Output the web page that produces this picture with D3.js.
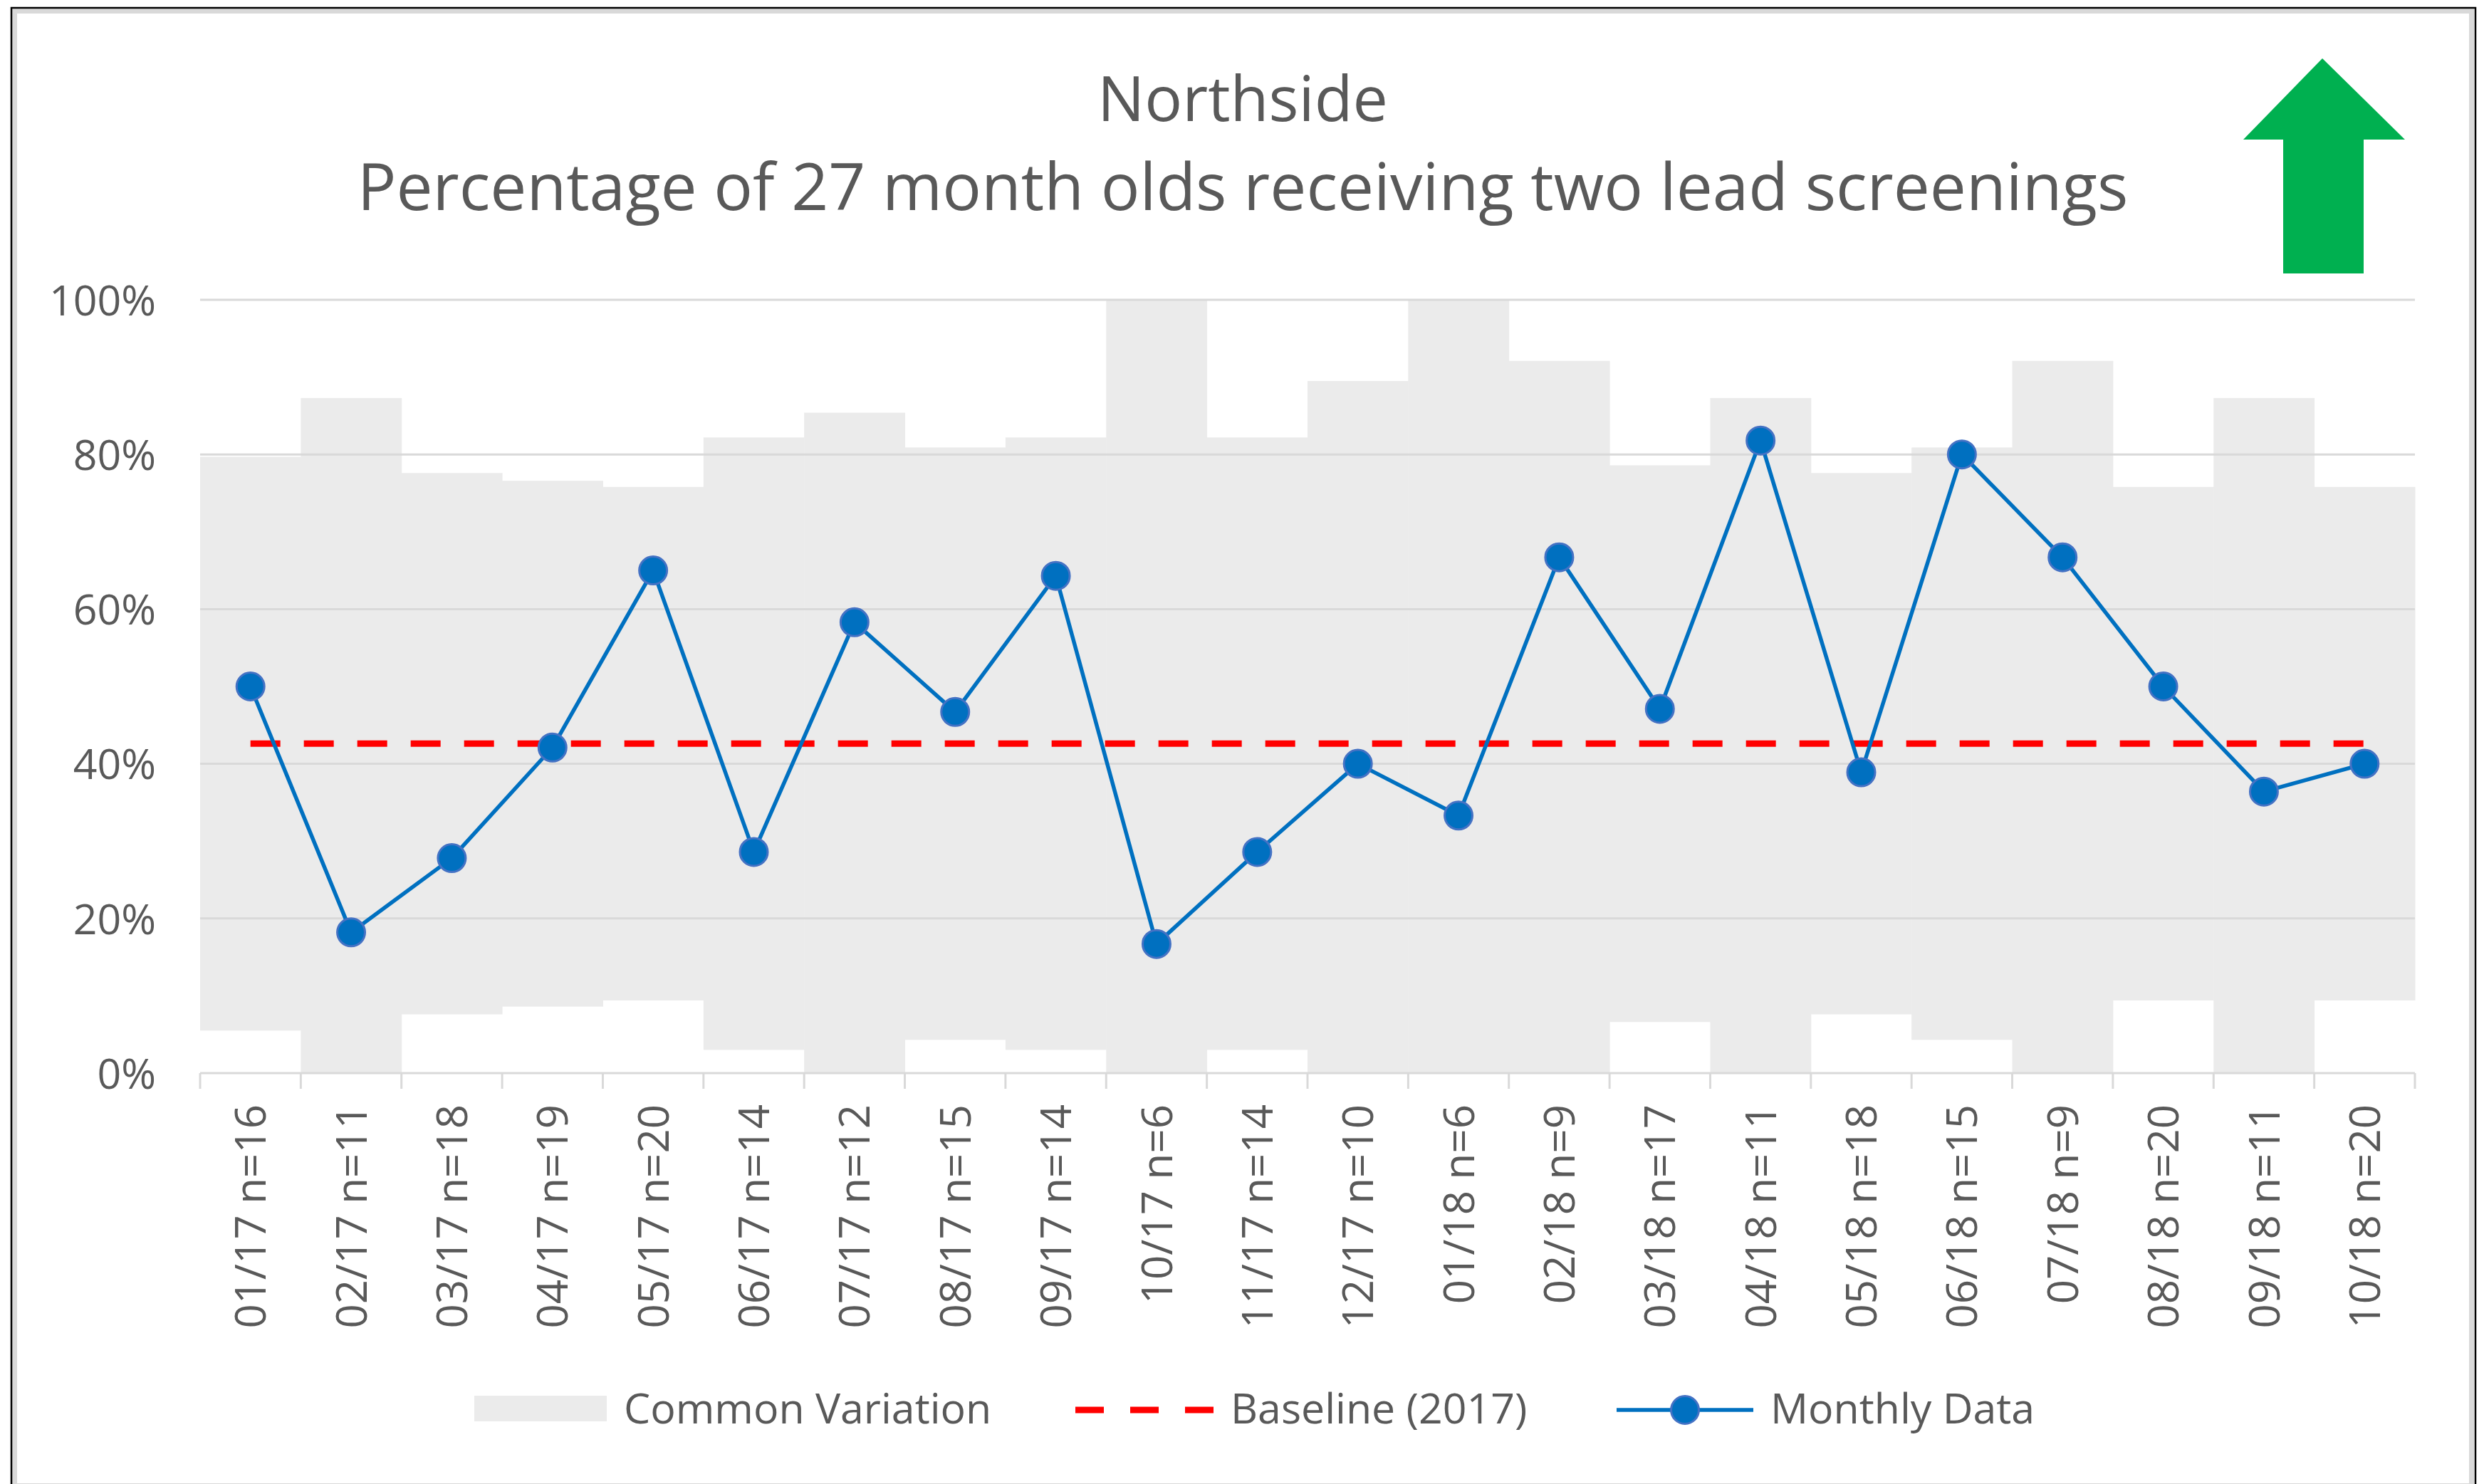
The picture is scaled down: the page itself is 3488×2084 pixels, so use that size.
<!DOCTYPE html>
<html>
<head>
<meta charset="utf-8">
<script src="https://cdn.jsdelivr.net/npm/d3@7"></script>
<style>
  body { margin: 0; background: #fff; }
  text { font-family: "Open Sans", "Noto Sans", sans-serif; fill: #595959; }
</style>
</head>
<body>
<div id="chart"></div>
<script>
// month labels and sample sizes
const months = ["01/17", "02/17", "03/17", "04/17", "05/17", "06/17", "07/17", "08/17", "09/17", "10/17", "11/17", "12/17",
                "01/18", "02/18", "03/18", "04/18", "05/18", "06/18", "07/18", "08/18", "09/18", "10/18"];
const counts = [16, 11, 18, 19, 20, 14, 12, 15, 14, 6, 14, 10, 6, 9, 17, 11, 18, 15, 9, 20, 11, 20];
// monthly percentage
const monthly = [50.0, 18.2, 27.8, 42.1, 65.0, 28.6, 58.3, 46.7, 64.3, 16.7, 28.6, 40.0,
                 33.3, 66.7, 47.1, 81.8, 38.9, 80.0, 66.7, 50.0, 36.4, 40.0];
// common variation band, lower / upper edge
const bandLow = [5.5, 0, 7.6, 8.6, 9.4, 3.0, 0, 4.3, 3.0, 0, 3.0, 0,
                 0, 0, 6.6, 0, 7.6, 4.3, 0, 9.4, 0, 9.4];
const bandHigh = [79.7, 87.3, 77.6, 76.6, 75.8, 82.2, 85.4, 80.9, 82.2, 100, 82.2, 89.5,
                  100, 92.1, 78.6, 87.3, 77.6, 80.9, 92.1, 75.8, 87.3, 75.8];
const baseline = 42.6;
const yTicks = [0, 20, 40, 60, 80, 100];

const width = 3488, height = 2084;
const plot = { left: 281, right: 3391, top: 421, bottom: 1507 };

const svg = d3.select("#chart").append("svg")
  .attr("width", width)
  .attr("height", height);

svg.append("rect").attr("width", width).attr("height", height).attr("fill", "#fff");

const x = d3.scaleBand().domain(months).range([plot.left, plot.right]).padding(0);
const y = d3.scaleLinear().domain([0, 100]).range([plot.bottom, plot.top]);
const cx = m => x(m) + x.bandwidth() / 2;

// common variation band
svg.append("g").selectAll("rect")
  .data(months)
  .enter().append("rect")
  .attr("x", d => x(d))
  .attr("width", x.bandwidth() + 0.5)
  .attr("y", (d, i) => y(bandHigh[i]))
  .attr("height", (d, i) => y(bandLow[i]) - y(bandHigh[i]))
  .attr("fill", "#EBEBEB");

// gridlines
svg.append("g").selectAll("line")
  .data(yTicks)
  .enter().append("line")
  .attr("x1", plot.left).attr("x2", plot.right)
  .attr("y1", d => y(d)).attr("y2", d => y(d))
  .attr("stroke", "#D9D9D9")
  .attr("stroke-width", 3);

// y axis labels
const yAxis = svg.append("g")
  .attr("transform", "translate(" + (plot.left - 62) + ",0)")
  .call(d3.axisLeft(y).tickValues(yTicks).tickSize(0).tickFormat(d => d + "%"));
yAxis.select(".domain").remove();
yAxis.selectAll("text")
  .attr("x", 0)
  .attr("dy", "0.36em")
  .style("font-size", "59px")
  .style("fill", "#595959");

// x axis tick marks at category boundaries
const bounds = months.map(m => x(m)).concat([plot.right]);
svg.append("g").selectAll("line")
  .data(bounds)
  .enter().append("line")
  .attr("x1", d => d).attr("x2", d => d)
  .attr("y1", plot.bottom).attr("y2", plot.bottom + 22)
  .attr("stroke", "#D9D9D9")
  .attr("stroke-width", 3);

const xAxis = svg.append("g")
  .attr("transform", "translate(0," + plot.bottom + ")")
  .call(d3.axisBottom(x).tickSize(0).tickFormat((d, i) => d + " n=" + counts[i]));
xAxis.select(".domain").remove();
xAxis.selectAll("text")
  .attr("transform", "rotate(-90)")
  .attr("x", -44)
  .attr("y", 0)
  .attr("dy", "0.36em")
  .attr("text-anchor", "end")
  .style("font-size", "60px")
  .style("fill", "#595959");

// baseline
svg.append("line")
  .attr("x1", cx(months[0])).attr("x2", cx(months[months.length - 1]))
  .attr("y1", y(baseline)).attr("y2", y(baseline))
  .attr("stroke", "#FF0000")
  .attr("stroke-width", 9)
  .attr("stroke-dasharray", "42 33");

// monthly data
const line = d3.line()
  .x((d, i) => cx(months[i]))
  .y(d => y(d));

svg.append("path")
  .datum(monthly)
  .attr("d", line)
  .attr("fill", "none")
  .attr("stroke", "#0070C0")
  .attr("stroke-width", 5.5)
  .attr("stroke-linejoin", "round");

svg.append("g").selectAll("circle")
  .data(monthly)
  .enter().append("circle")
  .attr("cx", (d, i) => cx(months[i]))
  .attr("cy", d => y(d))
  .attr("r", 19.5)
  .attr("fill", "#0070C0")
  .attr("stroke", "#4472C4")
  .attr("stroke-width", 3);

// titles
svg.append("text")
  .attr("x", 1745).attr("y", 170)
  .attr("text-anchor", "middle")
  .style("font-size", "88px")
  .text("Northside");
svg.append("text")
  .attr("x", 1745).attr("y", 295)
  .attr("text-anchor", "middle")
  .style("font-size", "91px")
  .text("Percentage of 27 month olds receiving two lead screenings");

// green up arrow
svg.append("path")
  .attr("d", "M3261,82 L3377,196 L3319,196 L3319,384 L3206,384 L3206,196 L3150,196 Z")
  .attr("fill", "#00B050");

// legend
const legend = svg.append("g");
legend.append("rect")
  .attr("x", 666).attr("y", 1960).attr("width", 186).attr("height", 36)
  .attr("fill", "#EBEBEB");
legend.append("text")
  .attr("x", 876).attr("y", 1999)
  .style("font-size", "59px")
  .text("Common Variation");

legend.append("line")
  .attr("x1", 1510).attr("x2", 1704)
  .attr("y1", 1980).attr("y2", 1980)
  .attr("stroke", "#FF0000")
  .attr("stroke-width", 9)
  .attr("stroke-dasharray", "40 37");
legend.append("text")
  .attr("x", 1728).attr("y", 1999)
  .style("font-size", "59px")
  .text("Baseline (2017)");

legend.append("line")
  .attr("x1", 2270).attr("x2", 2462)
  .attr("y1", 1980).attr("y2", 1980)
  .attr("stroke", "#0070C0")
  .attr("stroke-width", 5.5);
legend.append("circle")
  .attr("cx", 2366).attr("cy", 1980).attr("r", 19.5)
  .attr("fill", "#0070C0")
  .attr("stroke", "#4472C4")
  .attr("stroke-width", 3);
legend.append("text")
  .attr("x", 2486).attr("y", 1999)
  .style("font-size", "59px")
  .text("Monthly Data");

// chart frame
svg.append("rect")
  .attr("x", 20.5).attr("y", 15.5)
  .attr("width", 3450).attr("height", 2071)
  .attr("fill", "none")
  .attr("stroke", "#D9D9D9")
  .attr("stroke-width", 7);
svg.append("rect")
  .attr("x", 16).attr("y", 11)
  .attr("width", 3460).attr("height", 2200)
  .attr("fill", "none")
  .attr("stroke", "#000")
  .attr("stroke-width", 2.5);
</script>
</body>
</html>
